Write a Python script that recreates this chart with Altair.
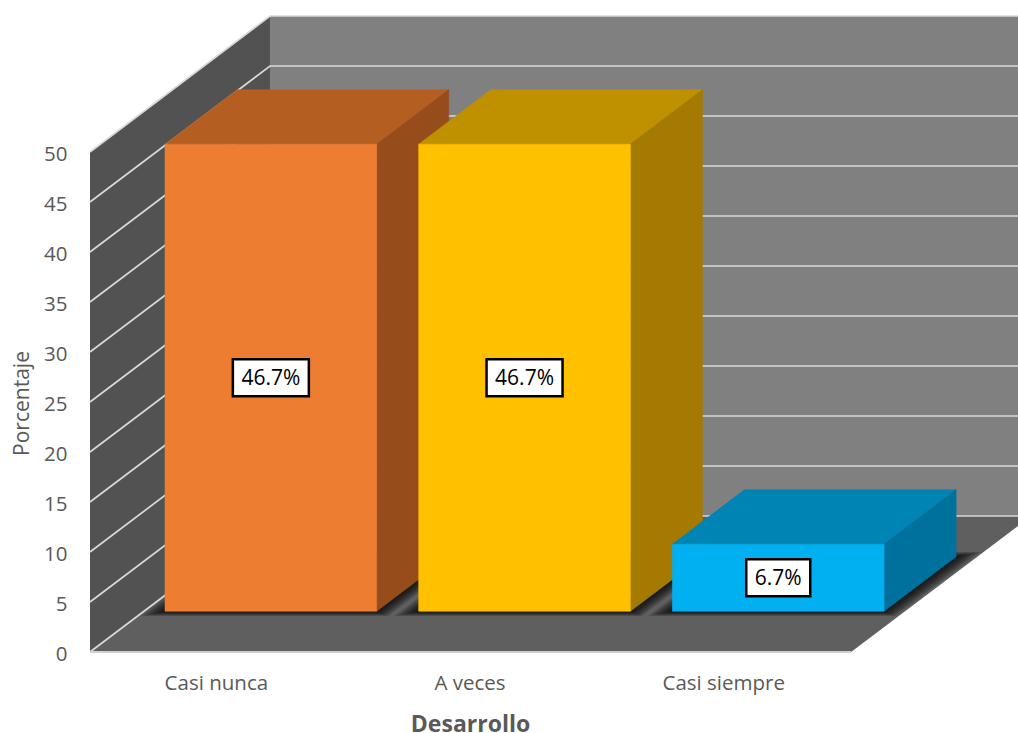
import altair as alt
import pandas as pd

# Chart data
categories = ["Casi nunca", "A veces", "Casi siempre"]
values = [46.7, 46.7, 6.7]
labels = ["46.7%", "46.7%", "6.7%"]
front_colors = ["#ED7D31", "#FFC000", "#00B0F0"]
top_colors = ["#B45F21", "#BF9000", "#0084B4"]
side_colors = ["#964D1B", "#A47B00", "#00719C"]
grid_values = [0, 5, 10, 15, 20, 25, 30, 35, 40, 45, 50]

# Oblique view: one unit of depth shifts a point right and up the value scale
UNIT = 253.7
DEPTH_X = 180 / UNIT
DEPTH_Y = 13.6
X_MAX = 928 / UNIT
Y_MAX = 65.2
BAR_GAP = 21 / UNIT
DEPTH_NEAR = 0.3
DEPTH_FAR = 0.7
FONT = "Open Sans"
TEXT_GREY = "#595959"


def project(x, value, depth):
    return {"xu": x + depth * DEPTH_X, "val": value + depth * DEPTH_Y}


rows = []


def polygon(name, fill, points, alpha=1.0):
    for seq, (x, value, depth) in enumerate(points):
        rows.append({"poly": name, "fill": fill, "alpha": alpha, "seq": seq, **project(x, value, depth)})


# Room walls and floor
wall_right = X_MAX - DEPTH_X
polygon("a_back", "#808080", [(0, 0, 1), (wall_right, 0, 1), (wall_right, 50, 1), (0, 50, 1)])
polygon("b_left", "#525252", [(0, 0, 0), (0, 0, 1), (0, 50, 1), (0, 50, 0)])
polygon("c_floor", "#5F5F5F", [(0, 0, 0), (3, 0, 0), (3, 0, 1), (0, 0, 1)])
room = pd.DataFrame(rows)

# Soft contact shadows, built from nested translucent footprints
rows = []
SHADOW_STEPS = [1.0, 0.875, 0.75, 0.625, 0.5, 0.375, 0.25, 0.125]
for i in range(3):
    x0, x1 = i + BAR_GAP, i + 1 - BAR_GAP
    for step, k in enumerate(SHADOW_STEPS):
        mx, md = k * 18 / UNIT, k * 0.036
        polygon(
            f"s{i}{step}",
            "#000000",
            [
                (x0 - mx, 0, DEPTH_NEAR - md),
                (x1 + mx, 0, DEPTH_NEAR - md),
                (x1 + mx, 0, DEPTH_FAR + md),
                (x0 - mx, 0, DEPTH_FAR + md),
            ],
            alpha=0.14,
        )
shadows = pd.DataFrame(rows)

# Three visible faces of each bar, drawn from left to right
rows = []
for i, v in enumerate(values):
    x0, x1 = i + BAR_GAP, i + 1 - BAR_GAP
    polygon(f"f{i}a", top_colors[i], [(x0, v, DEPTH_NEAR), (x1, v, DEPTH_NEAR), (x1, v, DEPTH_FAR), (x0, v, DEPTH_FAR)])
    polygon(f"f{i}b", side_colors[i], [(x1, 0, DEPTH_NEAR), (x1, 0, DEPTH_FAR), (x1, v, DEPTH_FAR), (x1, v, DEPTH_NEAR)])
    polygon(f"f{i}c", front_colors[i], [(x0, 0, DEPTH_NEAR), (x1, 0, DEPTH_NEAR), (x1, v, DEPTH_NEAR), (x0, v, DEPTH_NEAR)])
bars = pd.DataFrame(rows)

# Gridlines run across the left wall and then along the back wall
rows = []
for g in grid_values:
    for seq, (x, depth) in enumerate([(0, 0), (0, 1), (wall_right, 1)]):
        rows.append({"line": g, "seq": seq, **project(x, g, depth)})
grid = pd.DataFrame(rows)

rows = []
for seq, x in enumerate([0, 3]):
    rows.append({"seq": seq, **project(x, 0, 0)})
front_edge = pd.DataFrame(rows)

label_rows = [
    {"text": t, "width": 12 * len(t) + 16, **project(i + 0.5, v / 2, DEPTH_NEAR)}
    for i, (t, v) in enumerate(zip(labels, values))
]
label_df = pd.DataFrame(label_rows)

x_scale = alt.Scale(domain=[0, X_MAX], nice=False, zero=False)
y_scale = alt.Scale(domain=[0, Y_MAX], nice=False, zero=False)

cat_expr = " : ".join(
    f"datum.value < {i + 1} ? '{c}'" for i, c in enumerate(categories[:-1])
) + f" : '{categories[-1]}'"

x_axis = alt.Axis(
    values=[0.5, 1.5, 2.5],
    labelExpr=cat_expr,
    grid=False,
    domain=False,
    ticks=False,
    labelFont=FONT,
    labelFontSize=20.5,
    labelColor=TEXT_GREY,
    labelPadding=21,
    labelOffset=-1,
    title="Desarrollo",
    titleFont=FONT,
    titleFontSize=23,
    titleFontWeight="bold",
    titleColor=TEXT_GREY,
    titleX=380,
    titleY=72,
    titleAlign="center",
    titleBaseline="middle",
)
y_axis = alt.Axis(
    values=grid_values,
    grid=False,
    domain=False,
    ticks=False,
    labelFont=FONT,
    labelFontSize=20.5,
    labelColor=TEXT_GREY,
    labelPadding=23,
    labelOffset=2,
    title="Porcentaje",
    titleFont=FONT,
    titleFontSize=21,
    titleFontWeight="normal",
    titleColor=TEXT_GREY,
    titleX=-68,
    titleY=403,
    titleAngle=270,
    titleAlign="center",
    titleBaseline="middle",
)

X = alt.X("xu:Q", scale=x_scale, axis=x_axis)
Y = alt.Y("val:Q", scale=y_scale, axis=y_axis)


def faces(data, clip=False, stroke=True):
    return alt.Chart(data).mark_line(
        interpolate="linear-closed", clip=clip, strokeWidth=0.6 if stroke else 0
    ).encode(
        x=X,
        y=Y,
        detail="poly:N",
        order=alt.Order("seq:Q"),
        fill=alt.Fill("fill:N", scale=None),
        stroke=alt.Stroke("fill:N", scale=None),
        opacity=alt.Opacity("alpha:Q", scale=None),
    )


grid_layer = alt.Chart(grid).mark_line(color="#D9D9D9", strokeWidth=1.7).encode(
    x=X, y=Y, detail="line:N", order=alt.Order("seq:Q")
)

edge_layer = alt.Chart(front_edge).mark_line(color="#D0D0D0", strokeWidth=2).encode(
    x=X, y=Y, order=alt.Order("seq:Q")
)

box_layers = []
for _, row in label_df.iterrows():
    one = label_df[label_df["xu"] == row["xu"]]
    box_layers.append(
        alt.Chart(one).mark_rect(
            width=int(row["width"]), height=37, fill="#FFFFFF", stroke="#000000", strokeWidth=2.5
        ).encode(x=X, y=Y)
    )

text_layer = alt.Chart(label_df).mark_text(
    font=FONT, fontSize=21, dy=1, color="#000000", align="center", baseline="middle"
).encode(x=X, y=Y, text="text:N")

chart = alt.layer(
    faces(room, clip=True, stroke=False),
    grid_layer,
    edge_layer,
    faces(shadows, stroke=False),
    faces(bars),
    *box_layers,
    text_layer,
).properties(
    width=928,
    height=652,
    padding={"left": 90, "top": 0, "right": 0, "bottom": 81},
    autosize=alt.AutoSizeParams(type="none"),
    background="#FFFFFF",
).configure_view(stroke=None)

chart.save("out.html", embed_options={"renderer": "svg", "actions": False})
